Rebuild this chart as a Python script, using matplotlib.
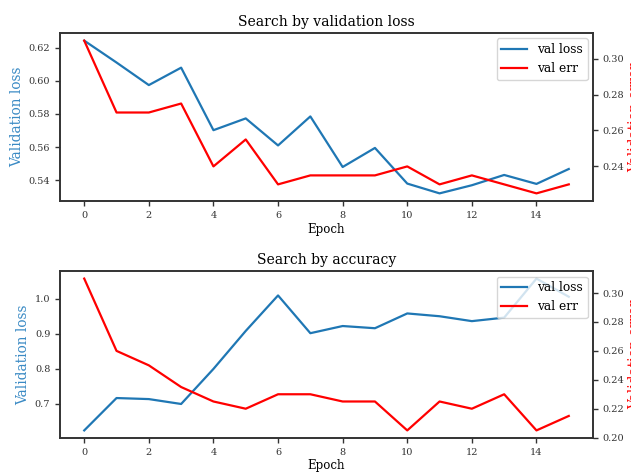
import matplotlib
matplotlib.use("Agg")
import matplotlib.pyplot as plt
from matplotlib.ticker import MultipleLocator

epochs = list(range(16))
top_val_loss = [0.6242, 0.611, 0.5974, 0.6079, 0.5702, 0.5773, 0.561, 0.5785,
                0.548, 0.5595, 0.538, 0.5321, 0.537, 0.5432, 0.5378, 0.5468]
top_val_err = [0.31, 0.27, 0.27, 0.275, 0.24, 0.255, 0.23, 0.235,
               0.235, 0.235, 0.24, 0.23, 0.235, 0.23, 0.225, 0.23]
bot_val_loss = [0.6234, 0.716, 0.713, 0.699, 0.7993, 0.908, 1.0095, 0.9015,
                0.922, 0.9157, 0.958, 0.950, 0.936, 0.946, 1.0577, 1.0057]
bot_val_err = [0.31, 0.26, 0.25, 0.235, 0.225, 0.22, 0.23, 0.23,
               0.225, 0.225, 0.205, 0.225, 0.22, 0.23, 0.205, 0.215]
titles = ["Search by validation loss", "Search by accuracy"]

plt.rcParams['font.family'] = ['DejaVu Serif']
plt.rcParams['axes.edgecolor'] = '#333333'
plt.rcParams['axes.linewidth'] = 1.2
plt.rcParams['xtick.color'] = '#333333'
plt.rcParams['ytick.color'] = '#333333'

W, H = 631, 472
fig = plt.figure(figsize=(W / 100, H / 100), dpi=100)

def pos(l, t, r, b):
    return [l / W, 1 - b / H, (r - l) / W, (b - t) / H]

specs = [
    (pos(60, 33, 593, 201), top_val_loss, top_val_err, titles[0], 0.02, 0.02),
    (pos(60, 271, 593, 438), bot_val_loss, bot_val_err, titles[1], 0.1, 0.02),
]

for p, loss, err, title, lstep, estep in specs:
    ax = fig.add_axes(p)
    l1, = ax.plot(epochs, loss, color='#1f77b4', lw=1.6, label='val loss')
    ax2 = ax.twinx()
    l2, = ax2.plot(epochs, err, color='red', lw=1.6, label='val err')
    ax.set_title(title, fontsize=10, pad=5)
    ax.set_xlabel('Epoch', fontsize=8.5, labelpad=2)
    ax.set_ylabel('Validation loss', color='#3a8ac4', fontsize=9.8, labelpad=3)
    ax2.set_ylabel('Validation error', color='red', fontsize=9.8, labelpad=2.5)
    ax.xaxis.set_major_locator(MultipleLocator(2))
    ax.yaxis.set_major_locator(MultipleLocator(lstep))
    ax2.yaxis.set_major_locator(MultipleLocator(estep))
    for a in (ax, ax2):
        a.tick_params(labelsize=7, length=3.5, width=1, direction='out')
    ax2.legend([l1, l2], ['val loss', 'val err'], loc='upper right', fontsize=8.8,
               handlelength=2.1, borderaxespad=0.45, framealpha=0.8)

fig.savefig('out.png', dpi=100)
